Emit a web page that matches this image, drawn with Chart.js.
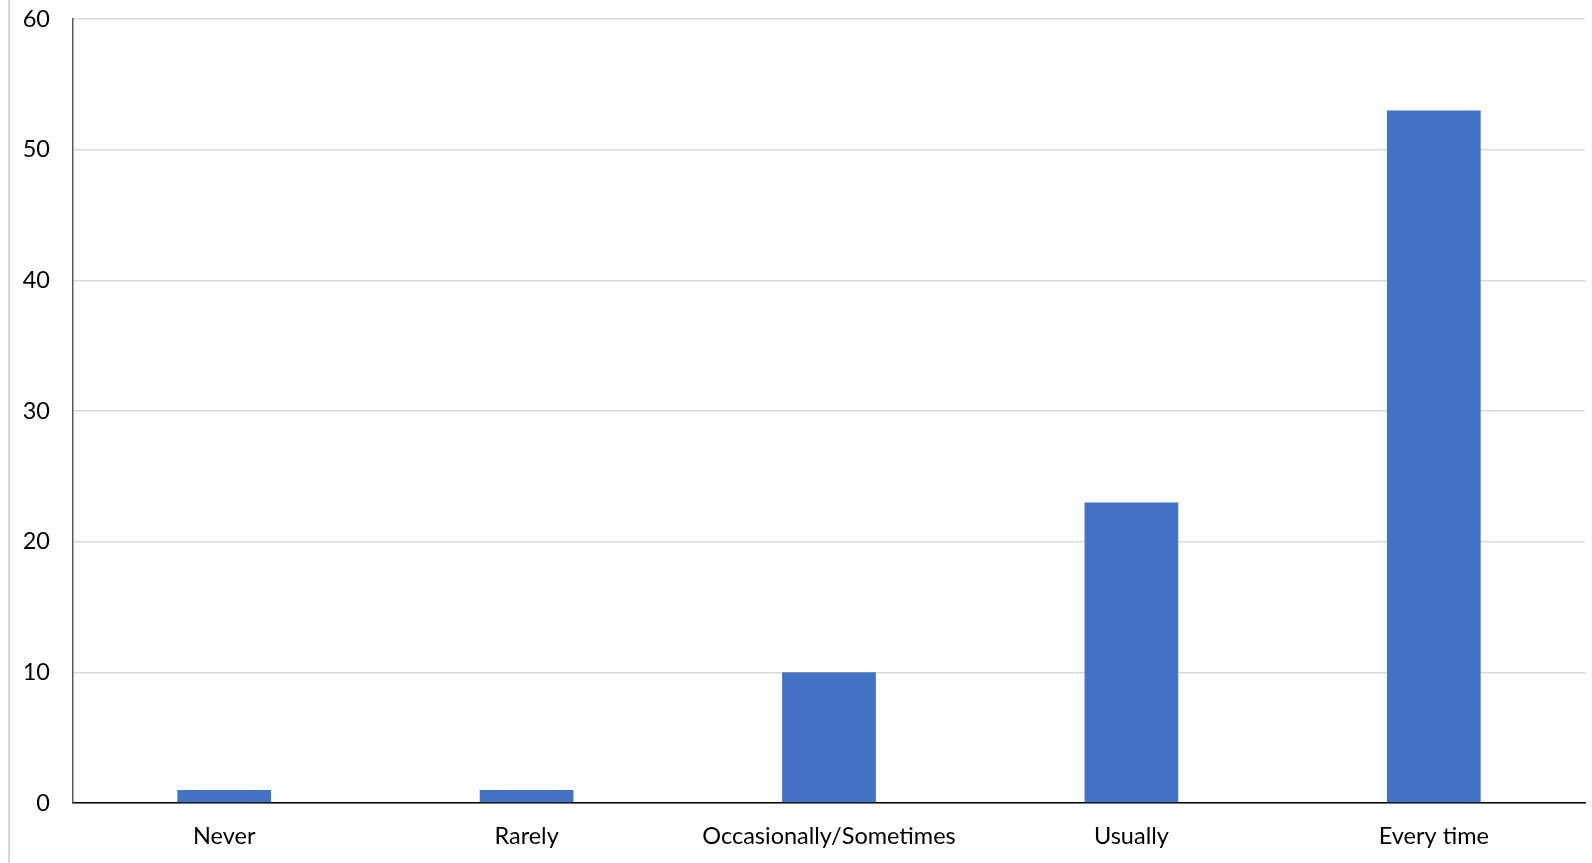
<!DOCTYPE html>
<html>
<head>
<meta charset="utf-8">
<script src="https://cdn.jsdelivr.net/npm/chart.js@4"></script>
<style>
	html, body { margin: 0; padding: 0; background: white; }
	#canvasDiv { position: relative; width: 1592px; height: 863px; }
	#edge { position: absolute; left: 8px; top: 0; width: 2px; height: 863px; background: #d9d9d9; }
	#myChart { position: absolute; left: 0; top: 0; }
</style>
</head>
<body>
<div id="canvasDiv">
	<div id="edge"></div>
	<canvas id="myChart" width="1592" height="863"></canvas>
</div>
<script>
/* chart data */
const categories = ["Never", "Rarely", "Occasionally/Sometimes", "Usually", "Every time"];
const counts = [1, 1, 10, 23, 53];
const yTicks = [0, 10, 20, 30, 40, 50, 60];

const ctx = document.getElementById("myChart").getContext("2d");

const barChart = new Chart(ctx, {
	type: "bar",
	data: {
		labels: categories,
		datasets: [
			{
				label: "Count",
				data: counts,
				backgroundColor: "#4472C4",
				barPercentage: 0.31,
				categoryPercentage: 1.0
			}
		]
	},
	options: {
		responsive: false,
		animation: false,
		layout: { padding: { top: 19, right: 7, left: 0, bottom: 0 } },
		plugins: {
			legend: { display: false },
			tooltip: { enabled: false }
		},
		scales: {
			x: {
				grid: { display: false, drawTicks: false },
				border: { display: true, color: "#000000", width: 1.5 },
				ticks: {
					color: "#000000",
					font: { family: "Lato", size: 23.5 },
					padding: 19,
					maxRotation: 0
				},
				afterFit: function(scale) {
					scale.height = 60;
					scale.paddingLeft = 0;
					scale.paddingRight = 0;
				}
			},
			y: {
				min: 0,
				max: 60,
				afterBuildTicks: function(scale) {
					scale.ticks = yTicks.map(function(v) { return { value: v }; });
				},
				grid: { color: "#d9d9d9", lineWidth: 1.5, drawTicks: false },
				border: { display: true, color: "#595959", width: 1.5 },
				ticks: {
					color: "#000000",
					font: { family: "Lato", size: 23.5 },
					padding: 23
				},
				afterFit: function(scale) {
					scale.width = 73;
					scale.paddingTop = 0;
					scale.paddingBottom = 0;
				}
			}
		}
	}
});
</script>
</body>
</html>
